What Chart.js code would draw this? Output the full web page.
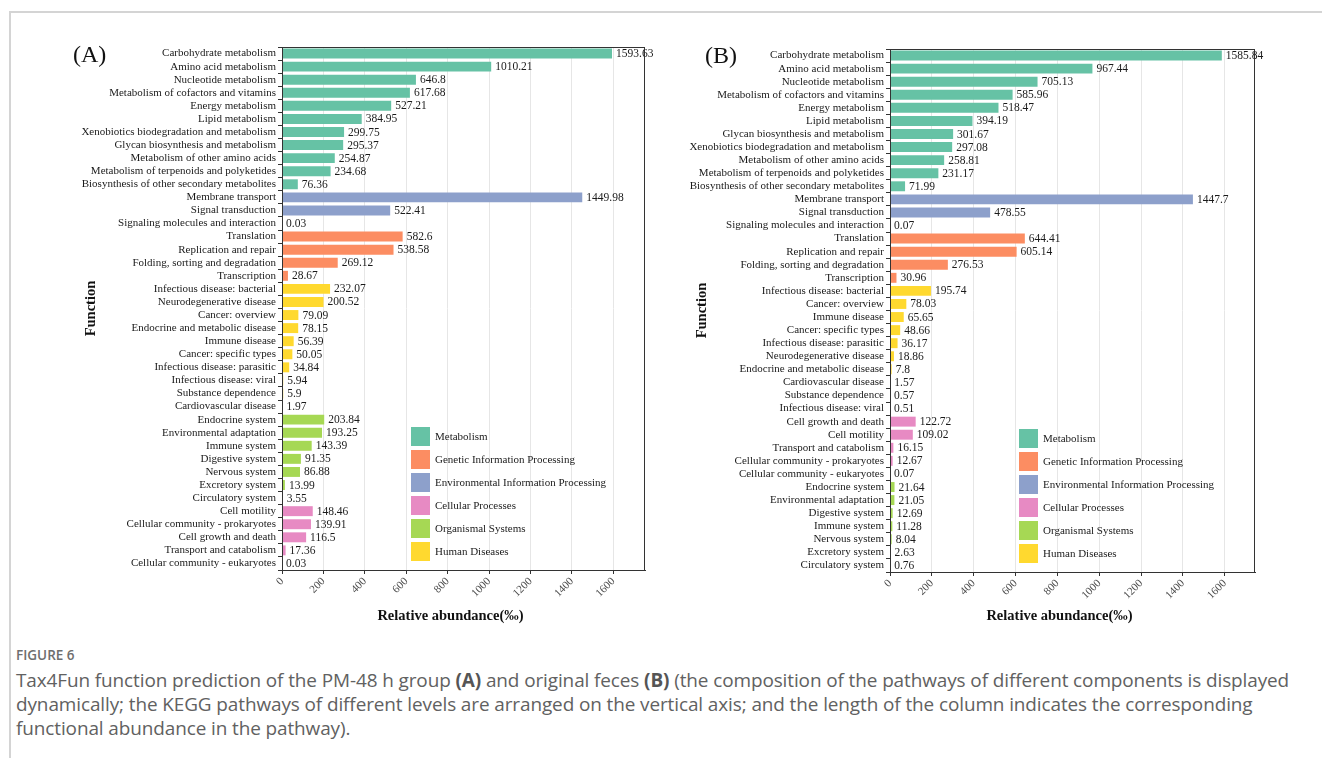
<!DOCTYPE html>
<html>
<head>
<meta charset="utf-8">
<title>Tax4Fun function prediction</title>
<script src="https://cdn.jsdelivr.net/npm/chart.js@4/dist/chart.umd.min.js"></script>
<style>
  body { margin: 0; background: #fff; width: 1322px; height: 758px; overflow: hidden; position: relative; }
  #frame { position: absolute; left: 9px; top: 11px; width: 1330px; height: 760px;
           border-left: 2px solid #d4d4d4; border-top: 2px solid #d4d4d4; }
  .wrap { position: absolute; top: 0; }
  #wrapA { left: 0; }
  #wrapB { left: 620px; }
  .tag { position: absolute; font-family: "Liberation Serif", serif; font-size: 24px; color: #111; line-height: 1; }
  #caption { position: absolute; left: 16px; top: 646px; font-family: "Open Sans", "Noto Sans", sans-serif; color: #616161; }
  #caption .fig { font-size: 13.5px; font-weight: 600; color: #6e6e6e; line-height: 18px; }
  #caption .txt { font-size: 18.95px; line-height: 24px; margin-top: 4px; white-space: nowrap; letter-spacing: -0.1px; }
  #caption b { font-weight: 700; color: #555; }
</style>
</head>
<body>
<div id="frame"></div>
<div class="wrap" id="wrapA"><canvas id="chartA" width="660" height="630"></canvas></div>
<div class="wrap" id="wrapB"><canvas id="chartB" width="650" height="630"></canvas></div>
<div class="tag" style="left:73px; top:42px;">(A)</div>
<div class="tag" style="left:705px; top:43px;">(B)</div>
<div id="caption">
  <div class="fig">FIGURE 6</div>
  <div class="txt">Tax4Fun function prediction of the PM-48 h group <b>(A)</b> and original feces <b>(B)</b> (the composition of the pathways of different components is displayed<br>dynamically; the KEGG pathways of different levels are arranged on the vertical axis; and the length of the column indicates the corresponding<br>functional abundance in the pathway).</div>
</div>
<script>
// KEGG level-1 groups and their colours
const groupNames = ['Metabolism', 'Genetic Information Processing', 'Environmental Information Processing',
  'Cellular Processes', 'Organismal Systems', 'Human Diseases'];
const groupColors = ['#66c2a5', '#fc8d62', '#8da0cb', '#e78ac3', '#a6d854', '#ffd92f'];

// (A) PM-48 h group
const labelsA = [
  'Carbohydrate metabolism', 'Amino acid metabolism', 'Nucleotide metabolism',
  'Metabolism of cofactors and vitamins', 'Energy metabolism', 'Lipid metabolism',
  'Xenobiotics biodegradation and metabolism', 'Glycan biosynthesis and metabolism',
  'Metabolism of other amino acids', 'Metabolism of terpenoids and polyketides',
  'Biosynthesis of other secondary metabolites',
  'Membrane transport', 'Signal transduction', 'Signaling molecules and interaction',
  'Translation', 'Replication and repair', 'Folding, sorting and degradation', 'Transcription',
  'Infectious disease: bacterial', 'Neurodegenerative disease', 'Cancer: overview',
  'Endocrine and metabolic disease', 'Immune disease', 'Cancer: specific types',
  'Infectious disease: parasitic', 'Infectious disease: viral', 'Substance dependence',
  'Cardiovascular disease',
  'Endocrine system', 'Environmental adaptation', 'Immune system', 'Digestive system',
  'Nervous system', 'Excretory system', 'Circulatory system',
  'Cell motility', 'Cellular community - prokaryotes', 'Cell growth and death',
  'Transport and catabolism', 'Cellular community - eukaryotes'
];
const valuesA = [
  1593.63, 1010.21, 646.8, 617.68, 527.21, 384.95, 299.75, 295.37, 254.87, 234.68, 76.36,
  1449.98, 522.41, 0.03,
  582.6, 538.58, 269.12, 28.67,
  232.07, 200.52, 79.09, 78.15, 56.39, 50.05, 34.84, 5.94, 5.9, 1.97,
  203.84, 193.25, 143.39, 91.35, 86.88, 13.99, 3.55,
  148.46, 139.91, 116.5, 17.36, 0.03
];
// group index of each bar (into groupNames)
const groupsA = [
  0, 0, 0, 0, 0, 0, 0, 0, 0, 0, 0,
  2, 2, 2,
  1, 1, 1, 1,
  5, 5, 5, 5, 5, 5, 5, 5, 5, 5,
  4, 4, 4, 4, 4, 4, 4,
  3, 3, 3, 3, 3
];

// (B) original feces
const labelsB = [
  'Carbohydrate metabolism', 'Amino acid metabolism', 'Nucleotide metabolism',
  'Metabolism of cofactors and vitamins', 'Energy metabolism', 'Lipid metabolism',
  'Glycan biosynthesis and metabolism', 'Xenobiotics biodegradation and metabolism',
  'Metabolism of other amino acids', 'Metabolism of terpenoids and polyketides',
  'Biosynthesis of other secondary metabolites',
  'Membrane transport', 'Signal transduction', 'Signaling molecules and interaction',
  'Translation', 'Replication and repair', 'Folding, sorting and degradation', 'Transcription',
  'Infectious disease: bacterial', 'Cancer: overview', 'Immune disease', 'Cancer: specific types',
  'Infectious disease: parasitic', 'Neurodegenerative disease', 'Endocrine and metabolic disease',
  'Cardiovascular disease', 'Substance dependence', 'Infectious disease: viral',
  'Cell growth and death', 'Cell motility', 'Transport and catabolism',
  'Cellular community - prokaryotes', 'Cellular community - eukaryotes',
  'Endocrine system', 'Environmental adaptation', 'Digestive system', 'Immune system',
  'Nervous system', 'Excretory system', 'Circulatory system'
];
const valuesB = [
  1585.84, 967.44, 705.13, 585.96, 518.47, 394.19, 301.67, 297.08, 258.81, 231.17, 71.99,
  1447.7, 478.55, 0.07,
  644.41, 605.14, 276.53, 30.96,
  195.74, 78.03, 65.65, 48.66, 36.17, 18.86, 7.8, 1.57, 0.57, 0.51,
  122.72, 109.02, 16.15, 12.67, 0.07,
  21.64, 21.05, 12.69, 11.28, 8.04, 2.63, 0.76
];
const groupsB = [
  0, 0, 0, 0, 0, 0, 0, 0, 0, 0, 0,
  2, 2, 2,
  1, 1, 1, 1,
  5, 5, 5, 5, 5, 5, 5, 5, 5, 5,
  3, 3, 3, 3, 3,
  4, 4, 4, 4, 4, 4, 4
];

const serif = '"Liberation Serif", "Times New Roman", serif';

// value printed just past the end of each bar
const valueLabels = {
  id: 'valueLabels',
  afterDatasetsDraw(chart) {
    const ctx = chart.ctx;
    const data = chart.data.datasets[0].data;
    ctx.save();
    ctx.font = '11.5px ' + serif;
    ctx.fillStyle = '#1a1a1a';
    ctx.textBaseline = 'middle';
    ctx.textAlign = 'left';
    chart.getDatasetMeta(0).data.forEach((bar, i) => {
      ctx.fillText(String(data[i]), bar.x + 4, bar.y + 0.5);
    });
    ctx.restore();
  }
};

// panel border, x title and group legend inside the plot
const panelExtras = {
  id: 'panelExtras',
  afterDraw(chart) {
    const ctx = chart.ctx;
    const a = chart.chartArea;
    ctx.save();
    ctx.strokeStyle = '#333';
    ctx.lineWidth = 1;
    ctx.strokeRect(a.left + 0.5, a.top + 0.5, a.right - a.left - 1, a.bottom - a.top);

    ctx.fillStyle = '#111';
    ctx.font = 'bold 14.5px ' + serif;
    ctx.textAlign = 'center';
    ctx.textBaseline = 'middle';
    ctx.fillText('Relative abundance(‰)', (a.left + a.right) / 2 - 13, 616);

    const x0 = a.left + 129;
    const y0 = a.bottom - 143;
    ctx.font = '11px ' + serif;
    ctx.textAlign = 'left';
    groupNames.forEach((name, i) => {
      const y = y0 + i * 23;
      ctx.fillStyle = groupColors[i];
      ctx.fillRect(x0, y, 19, 19);
      ctx.fillStyle = '#1a1a1a';
      ctx.fillText(name, x0 + 24, y + 10);
    });
    ctx.restore();
  }
};

function makeChart(id, labels, values, groups, top, titleOffset, yWidth, xHeight) {
  return new Chart(document.getElementById(id), {
    type: 'bar',
    data: {
      labels: labels,
      datasets: [{
        data: values,
        backgroundColor: groups.map(g => groupColors[g]),
        borderWidth: 0,
        barPercentage: 0.76,
        categoryPercentage: 1
      }]
    },
    options: {
      indexAxis: 'y',
      responsive: false,
      animation: false,
      layout: { padding: { left: 0, top: top, right: 15, bottom: 0 } },
      plugins: { legend: { display: false }, tooltip: { enabled: false } },
      scales: {
        x: {
          type: 'linear',
          min: 0,
          max: Math.max(...values) * 1.1,
          grid: { color: '#e6e6e6', lineWidth: 1, tickColor: '#333', tickLength: 4 },
          border: { color: '#333', width: 1 },
          ticks: {
            stepSize: 200, includeBounds: false,
            minRotation: 45, maxRotation: 45, padding: 1,
            color: '#4d4d4d', font: { family: serif, size: 11 },
            callback: v => String(v)
          },
          afterFit(scale) { scale.height = xHeight; }
        },
        y: {
          grid: { drawOnChartArea: false, tickColor: '#333', tickLength: 4 },
          border: { color: '#333', width: 1 },
          ticks: {
            autoSkip: false, padding: 2,
            color: '#1a1a1a', font: { family: serif, size: 11 }
          },
          title: {
            display: true, text: 'Function', color: '#111',
            padding: { top: titleOffset, bottom: 0 },
            font: { family: serif, size: 14.5, weight: 'bold' }
          },
          afterFit(scale) { scale.width = yWidth; }
        }
      }
    },
    plugins: [valueLabels, panelExtras]
  });
}

makeChart('chartA', labelsA, valuesA, groupsA, 47, 83, 282, 60);
makeChart('chartB', labelsB, valuesB, groupsB, 49, 74, 270, 58);
</script>
</body>
</html>
